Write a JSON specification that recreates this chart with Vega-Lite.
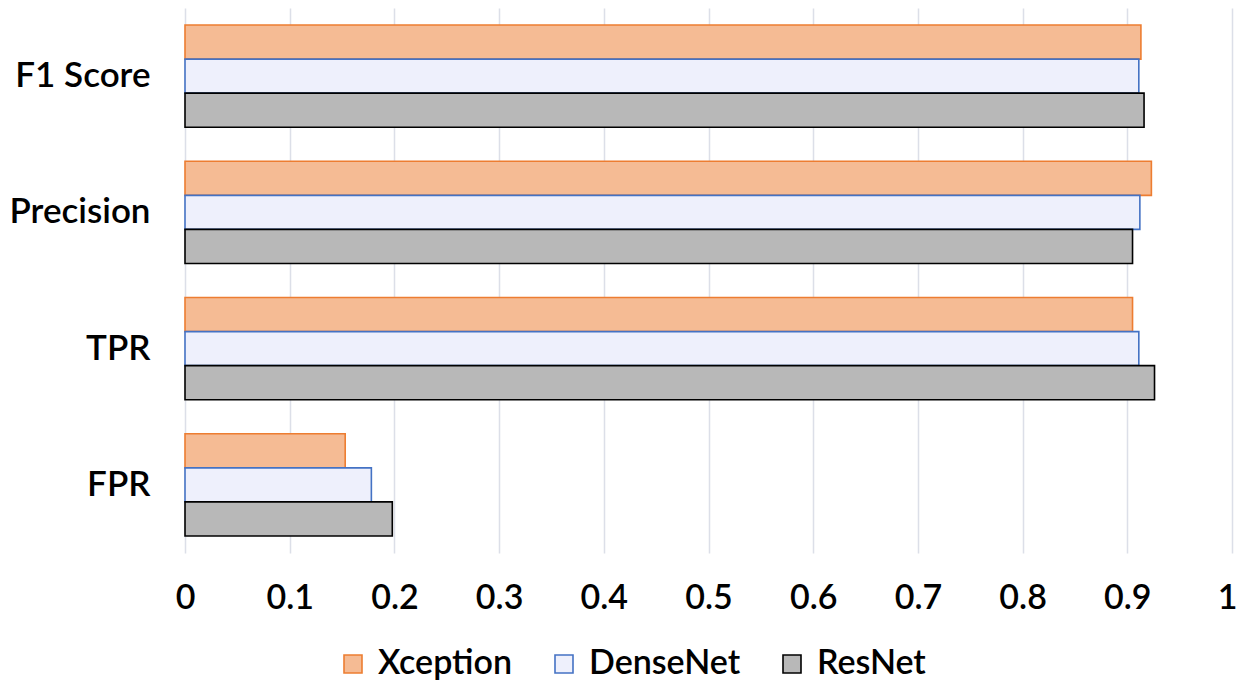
{
  "$schema": "https://vega.github.io/schema/vega-lite/v6.json",
  "autosize": {"type": "none"},
  "padding": {"left": 185, "top": 8, "right": 7, "bottom": 129},
  "width": 1047,
  "height": 545,
  "background": "#ffffff",
  "config": {
    "font": "Lato",
    "view": {"stroke": null},
    "axis": {"labelColor": "#000000", "labelFont": "Lato", "labelFontWeight": 600, "ticks": false, "domain": false, "title": null}
  },
  "data": {
    "values": [
      {"metric": "F1 Score", "model": "Xception", "value": 0.913},
      {"metric": "F1 Score", "model": "DenseNet", "value": 0.911},
      {"metric": "F1 Score", "model": "ResNet", "value": 0.916},
      {"metric": "Precision", "model": "Xception", "value": 0.923},
      {"metric": "Precision", "model": "DenseNet", "value": 0.912},
      {"metric": "Precision", "model": "ResNet", "value": 0.905},
      {"metric": "TPR", "model": "Xception", "value": 0.905},
      {"metric": "TPR", "model": "DenseNet", "value": 0.911},
      {"metric": "TPR", "model": "ResNet", "value": 0.926},
      {"metric": "FPR", "model": "Xception", "value": 0.153},
      {"metric": "FPR", "model": "DenseNet", "value": 0.178},
      {"metric": "FPR", "model": "ResNet", "value": 0.198}
    ]
  },
  "mark": {"type": "bar", "strokeWidth": 1.6},
  "encoding": {
    "y": {
      "field": "metric",
      "type": "nominal",
      "sort": ["F1 Score", "Precision", "TPR", "FPR"],
      "scale": {"paddingInner": 0.25, "paddingOuter": 0.125},
      "axis": {"labelPadding": 35, "labelFontSize": 35, "grid": false}
    },
    "yOffset": {
      "field": "model",
      "type": "nominal",
      "sort": ["Xception", "DenseNet", "ResNet"],
      "scale": {"paddingInner": 0, "paddingOuter": 0}
    },
    "x": {
      "field": "value",
      "type": "quantitative",
      "scale": {"domain": [0, 1], "nice": false},
      "axis": {
        "values": [0, 0.1, 0.2, 0.3, 0.4, 0.5, 0.6, 0.7, 0.8, 0.9, 1],
        "format": "~g",
        "grid": true,
        "gridColor": "#dcdfe8",
        "gridWidth": 1.5,
        "labelFontSize": 34,
        "labelPadding": 28,
        "labelFlush": false,
        "labelAlign": {"condition": {"test": "datum.value == 1", "value": "right"}, "value": "center"},
        "labelOffset": {"condition": {"test": "datum.value == 1", "value": 5}, "value": 0}
      }
    },
    "fill": {
      "field": "model",
      "type": "nominal",
      "sort": ["Xception", "DenseNet", "ResNet"],
      "scale": {"domain": ["Xception", "DenseNet", "ResNet"], "range": ["#f5bb94", "#eef0fc", "#b8b8b8"]},
      "legend": {
        "title": null,
        "orient": "none",
        "direction": "horizontal",
        "legendX": 151,
        "legendY": 639,
        "symbolType": "square",
        "symbolSize": 324,
        "symbolStrokeWidth": 1.6,
        "labelFontSize": 34,
        "labelFontWeight": 600,
        "labelColor": "#000000",
        "labelFont": "Lato",
        "labelOffset": 8,
        "columnPadding": 34
      }
    },
    "stroke": {
      "field": "model",
      "type": "nominal",
      "sort": ["Xception", "DenseNet", "ResNet"],
      "scale": {"domain": ["Xception", "DenseNet", "ResNet"], "range": ["#ed7d31", "#4472c4", "#000000"]},
      "legend": {
        "title": null,
        "orient": "none",
        "direction": "horizontal",
        "legendX": 151,
        "legendY": 639,
        "symbolType": "square",
        "symbolSize": 324,
        "symbolStrokeWidth": 1.6,
        "labelFontSize": 34,
        "labelFontWeight": 600,
        "labelColor": "#000000",
        "labelFont": "Lato",
        "labelOffset": 8,
        "columnPadding": 34
      }
    }
  }
}
